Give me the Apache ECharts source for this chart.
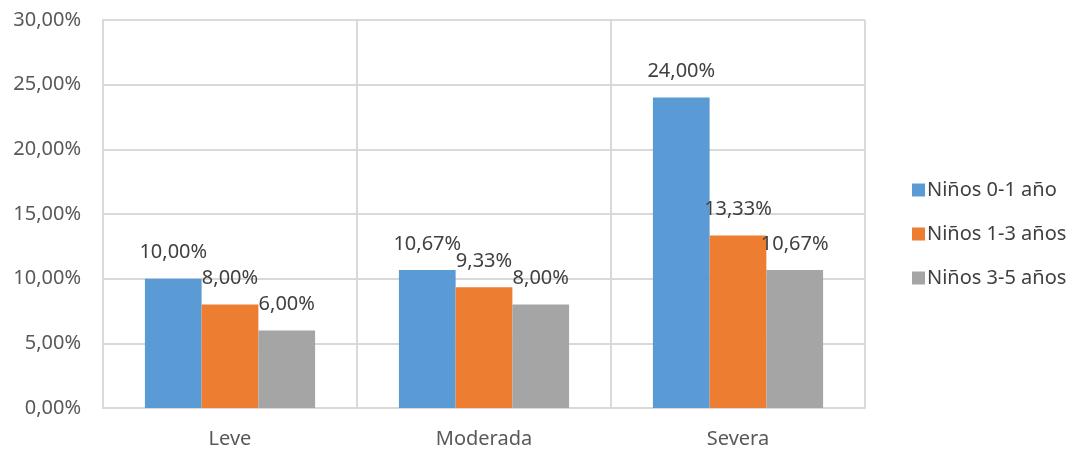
<!DOCTYPE html>
<html>
<head>
<meta charset="utf-8">
<script src="https://cdn.jsdelivr.net/npm/echarts@6/dist/echarts.min.js"></script>
<style>
  html, body { margin: 0; padding: 0; background: #fff; }
  #chart { width: 1073px; height: 451px; }
</style>
</head>
<body>
<div id="chart"></div>
<script>
// Categories of severity and the share (%) for each age group
const categories = ['Leve', 'Moderada', 'Severa'];
const ninos01 = [10.00, 10.67, 24.00];
const ninos13 = [8.00, 9.33, 13.33];
const ninos35 = [6.00, 8.00, 10.67];
const seriesNames = ['Niños 0-1 año', 'Niños 1-3 años', 'Niños 3-5 años'];
const colors = ['#5B9BD5', '#ED7D31', '#A5A5A5'];

const FONT = '"Noto Sans", "Open Sans", sans-serif';
const SIZE = 20;
const pct = v => v.toFixed(2).replace('.', ',') + '%';

const makeSeries = (name, data, color) => ({
  name: name,
  type: 'bar',
  data: data,
  barGap: '0%',
  barCategoryGap: '33%',
  itemStyle: { color: color },
  label: {
    show: true,
    position: 'top',
    distance: 16,
    color: '#404040',
    fontFamily: FONT,
    fontSize: SIZE,
    formatter: p => pct(p.value)
  }
});

const chart = echarts.init(document.getElementById('chart'));
chart.setOption({
  animation: false,
  color: colors,
  grid: { left: 103, right: 208, top: 20, bottom: 43, containLabel: false },
  legend: {
    orient: 'vertical',
    left: 907,
    top: 175,
    itemWidth: 13,
    itemHeight: 13,
    itemGap: 24,
    icon: 'rect',
    textStyle: { color: '#404040', fontFamily: FONT, fontSize: SIZE, padding: [0, 0, 0, -3] },
    data: seriesNames
  },
  xAxis: {
    type: 'category',
    data: categories,
    axisLine: { lineStyle: { color: '#d9d9d9', width: 2 } },
    axisTick: { show: false },
    splitLine: { show: true, lineStyle: { color: '#d9d9d9', width: 2 } },
    axisLabel: { color: '#595959', fontFamily: FONT, fontSize: SIZE, margin: 21 }
  },
  yAxis: {
    type: 'value',
    min: 0,
    max: 30,
    interval: 5,
    axisLine: { show: true, lineStyle: { color: '#d9d9d9', width: 2 } },
    axisTick: { show: false },
    splitLine: { lineStyle: { color: '#d9d9d9', width: 2 } },
    axisLabel: { color: '#595959', fontFamily: FONT, fontSize: SIZE, margin: 22, formatter: v => pct(v) }
  },
  series: [
    makeSeries(seriesNames[0], ninos01, colors[0]),
    makeSeries(seriesNames[1], ninos13, colors[1]),
    makeSeries(seriesNames[2], ninos35, colors[2])
  ]
});
</script>
</body>
</html>
